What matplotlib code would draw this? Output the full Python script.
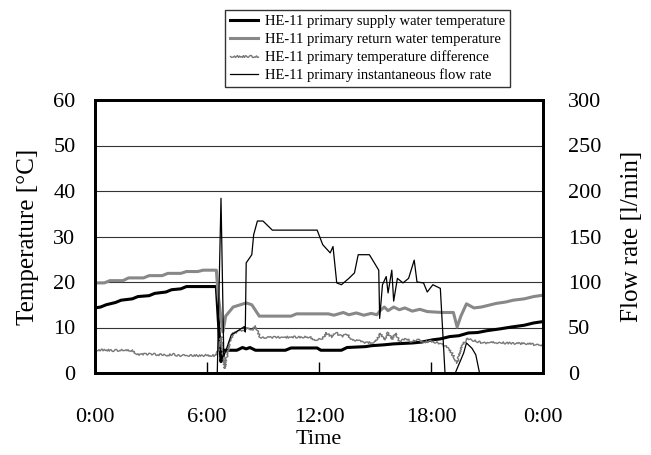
import matplotlib
matplotlib.use('Agg')
import matplotlib.pyplot as plt

plt.rcParams['font.family'] = ['Liberation Serif', 'DejaVu Serif']

# time in hours (0-24)
supply_t = [0, 0.3, 0.6, 1.1, 1.4, 2.0, 2.3, 2.9, 3.2, 3.8, 4.1, 4.6, 4.9, 5.5, 5.8, 6.5,
            6.6, 6.75, 6.85, 7.0, 7.6, 7.9, 8.1, 8.3, 8.6, 10.2, 10.5, 11.9, 12.1, 13.2, 13.5,
            14.5, 14.8, 15.5, 16.0, 17.0, 17.5, 18.1, 18.5, 19.0, 19.5, 20.0, 20.5, 21.0, 21.7,
            22.3, 23.0, 23.5, 24.0]
supply_temp = [14.3, 14.5, 15.0, 15.5, 16.0, 16.3, 16.8, 17.0, 17.5, 17.8, 18.3, 18.5, 19.0, 19.0,
               19.0, 19.0, 12.0, 2.5, 5.0, 5.0, 5.0, 5.6, 5.3, 5.6, 5.0, 5.0, 5.5, 5.5, 5.0, 5.0, 5.6,
               5.8, 6.0, 6.2, 6.4, 6.6, 6.8, 7.3, 7.5, 8.0, 8.2, 8.8, 8.9, 9.3, 9.7, 10.1, 10.5,
               11.0, 11.3]

return_t = [0, 0.5, 0.8, 1.5, 1.8, 2.6, 2.9, 3.6, 3.9, 4.6, 4.9, 5.5, 5.8, 6.5, 6.6, 6.85,
            7.0, 7.4, 8.1, 8.4, 8.8, 9.5, 10.5, 10.8, 12.5, 12.8, 13.3, 13.6, 14.0, 14.4, 14.8,
            15.1, 15.3, 15.5, 15.7, 16.0, 16.3, 16.6, 17.0, 17.4, 17.8, 18.2, 18.6, 19.2, 19.4,
            19.6, 19.9, 20.3, 20.7, 21.2, 21.5, 22.0, 22.4, 23.0, 23.5, 24.0]
return_temp = [19.8, 19.8, 20.3, 20.3, 20.9, 20.9, 21.4, 21.4, 21.9, 21.9, 22.3, 22.3, 22.6, 22.6,
               17.0, 9.0, 12.5, 14.5, 15.4, 15.0, 12.5, 12.5, 12.5, 13.0, 13.0, 12.7, 13.3, 12.8,
               13.2, 12.7, 13.1, 12.8, 13.8, 14.5, 13.7, 14.5, 13.9, 14.3, 13.6, 14.0, 13.5,
               13.4, 13.3, 13.3, 10.1, 12.5, 15.2, 14.3, 14.5, 15.0, 15.3, 15.6, 16.0, 16.3,
               16.8, 17.1]

diff_t = [0, 0.5, 1.0, 1.5, 2.0, 2.2, 3.0, 3.8, 4.2, 4.4, 5.0, 5.6, 6.0, 6.5, 6.6, 6.75,
          6.95, 7.2, 7.4, 7.8, 8.2, 8.4, 8.6, 8.85, 9.5, 10.5, 11.5, 11.8, 12.2, 12.4, 12.7,
          12.9, 13.2, 13.5, 13.8, 14.2, 14.6, 15.0, 15.3, 15.5, 15.7, 15.9, 16.1, 16.3, 16.7,
          17.0, 17.2, 17.6, 18.0, 18.5, 18.8, 19.1, 19.4, 19.6, 19.9, 20.2, 20.8, 21.5, 22.6,
          23.3, 24.0]
diff_temp = [5.0, 5.1, 4.9, 5.1, 4.9, 4.0, 4.2, 3.9, 4.1, 3.8, 3.9, 3.8, 3.9, 3.8, 5.0, 8.0,
             1.0, 6.5, 8.8, 9.2, 10.0, 9.4, 10.3, 7.8, 7.8, 7.9, 7.9, 7.3, 7.6, 8.8, 7.9, 8.9,
             8.0, 8.5, 7.2, 7.0, 6.6, 6.8, 8.7, 7.2, 8.9, 7.4, 8.8, 7.0, 7.5, 6.8, 7.4, 6.8, 7.0,
             6.5, 5.8, 4.5, 2.2, 5.5, 7.5, 7.2, 6.6, 6.7, 6.5, 6.4, 5.9]

flow_t = [0, 6.55, 6.75, 6.9, 7.3, 7.7, 8.0, 8.05, 8.1, 8.4, 8.5, 8.7, 9.0, 9.5, 11.9, 12.2,
          12.6, 12.75, 12.95, 13.2, 13.6, 13.9, 14.1, 14.7, 15.2, 15.25, 15.4, 15.6, 15.7,
          15.9, 16.0, 16.2, 16.5, 16.8, 17.1, 17.25, 17.6, 17.8, 18.1, 18.5, 18.75, 19.3,
          19.75, 19.9, 20.2, 20.4, 20.6, 24.0]
flow_rate = [0, 0, 192, 18, 42, 47, 51, 45, 121, 130, 152, 167, 167, 157, 157, 141, 132, 139,
             99, 97, 104, 110, 130, 130, 113, 60, 97, 106, 88, 113, 79, 104, 99, 104, 124, 100,
             99, 89, 97, 93, 0, 0, 22, 33, 27, 20, 0, 0]

hour_ticks = [0, 6, 12, 18, 24]
hour_labels = ['0:00', '6:00', '12:00', '18:00', '0:00']

fig = plt.figure(figsize=(6.51, 4.55), dpi=100)
ax = fig.add_axes([95 / 651, 1 - 373 / 455, 448 / 651, 273 / 455])
ax2 = ax.twinx()

ax.set_xlim(0, 24)
ax.set_ylim(0, 60)
ax2.set_ylim(0, 300)
ax.set_yticks(range(0, 61, 10))
ax2.set_yticks(range(0, 301, 50))
ax.set_xticks(hour_ticks)
ax.set_xticklabels(hour_labels)

ax.grid(axis='y', color='#333333', linewidth=0.8)
ax.set_axisbelow(True)

l1, = ax.plot(supply_t, supply_temp, color='black', lw=2.2,
              label='HE-11 primary supply water temperature')
l2, = ax.plot(return_t, return_temp, color='#888888', lw=2.2,
              label='HE-11 primary return water temperature')
l3, = ax.plot(diff_t, diff_temp, color='#777777', lw=1.0,
              label='HE-11 primary temperature difference')
l3.set_sketch_params(scale=1.0, length=2, randomness=3)
l4, = ax2.plot(flow_t, flow_rate, color='black', lw=0.9,
               label='HE-11 primary instantaneous flow rate')

for a in (ax, ax2):
    for s in a.spines.values():
        s.set_linewidth(2)
ax.tick_params(axis='x', direction='in', length=8, width=1, pad=25, labelsize=16)
ax.tick_params(axis='y', direction='in', length=0, pad=14, labelsize=16)
ax2.tick_params(axis='y', direction='in', length=0, pad=18, labelsize=16)

ax.set_xlabel('Time', fontsize=16, labelpad=2)
ax.set_ylabel('Temperature [°C]', fontsize=18, labelpad=10)
ax2.set_ylabel('Flow rate [l/min]', fontsize=18, labelpad=14)

leg = fig.legend(handles=[l1, l2, l3, l4], loc='upper left',
                 bbox_to_anchor=(225 / 651, 1 - 10 / 455), fontsize=10.5,
                 frameon=True, fancybox=False, edgecolor='black', borderaxespad=0,
                 handlelength=1.9, labelspacing=0.3, borderpad=0.35, handletextpad=0.5)
leg.get_frame().set_linewidth(1.0)

fig.savefig('out.png', dpi=100)
